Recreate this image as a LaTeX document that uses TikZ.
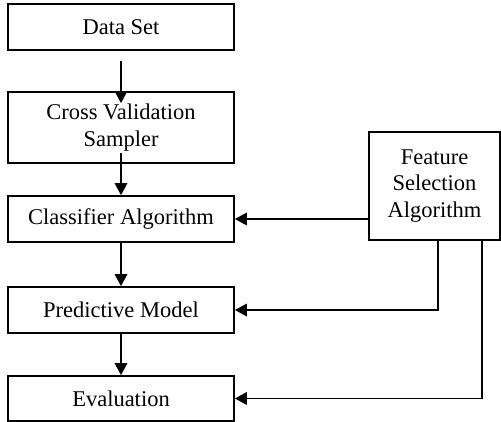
\documentclass[tikz,border=0pt]{standalone}
\usepackage{fontspec}
\setmainfont{Liberation Serif}
\usetikzlibrary{arrows.meta}
\begin{document}
\begin{tikzpicture}[x=1pt,y=-1pt,
  box/.style={draw, line width=1.7pt, inner sep=0pt, align=center,
    minimum width=226pt, font=\fontsize{22.5pt}{26.5pt}\selectfont},
  arr/.style={line width=1.7pt, -{Triangle[length=12pt,width=12.5pt]}}]
\useasboundingbox (0,0) rectangle (501,422);
\node[box, minimum height=46pt] (ds) at (121,27) {Data Set};
\node[box, minimum height=71pt] (cv) at (121,127.5) {Cross Validation\\Sampler};
\node[box, minimum height=46pt] (cl) at (121,219) {Classifier Algorithm};
\node[box, minimum height=46pt] (pm) at (121,310) {Predictive Model};
\node[box, minimum height=45pt] (ev) at (121,398.5) {Evaluation};
\node[box, minimum width=131pt, minimum height=108pt] (fs) at (434.5,186) {Feature\\Selection\\Algorithm};
\draw[arr] ([yshift=-10pt]ds.south) -- ([yshift=-12pt]cv.north);
\draw[arr] ([yshift=11pt]cv.south) -- (cl.north);
\draw[arr] (cl.south) -- (pm.north);
\draw[arr] (pm.south) -- (ev.north);
\draw[arr] (cl.east -| fs.west) -- (cl.east);
\draw[arr] ([xshift=3.5pt]fs.south) |- (pm.east);
\draw[arr] ([xshift=47.5pt]fs.south) |- (ev.east);
\end{tikzpicture}
\end{document}
